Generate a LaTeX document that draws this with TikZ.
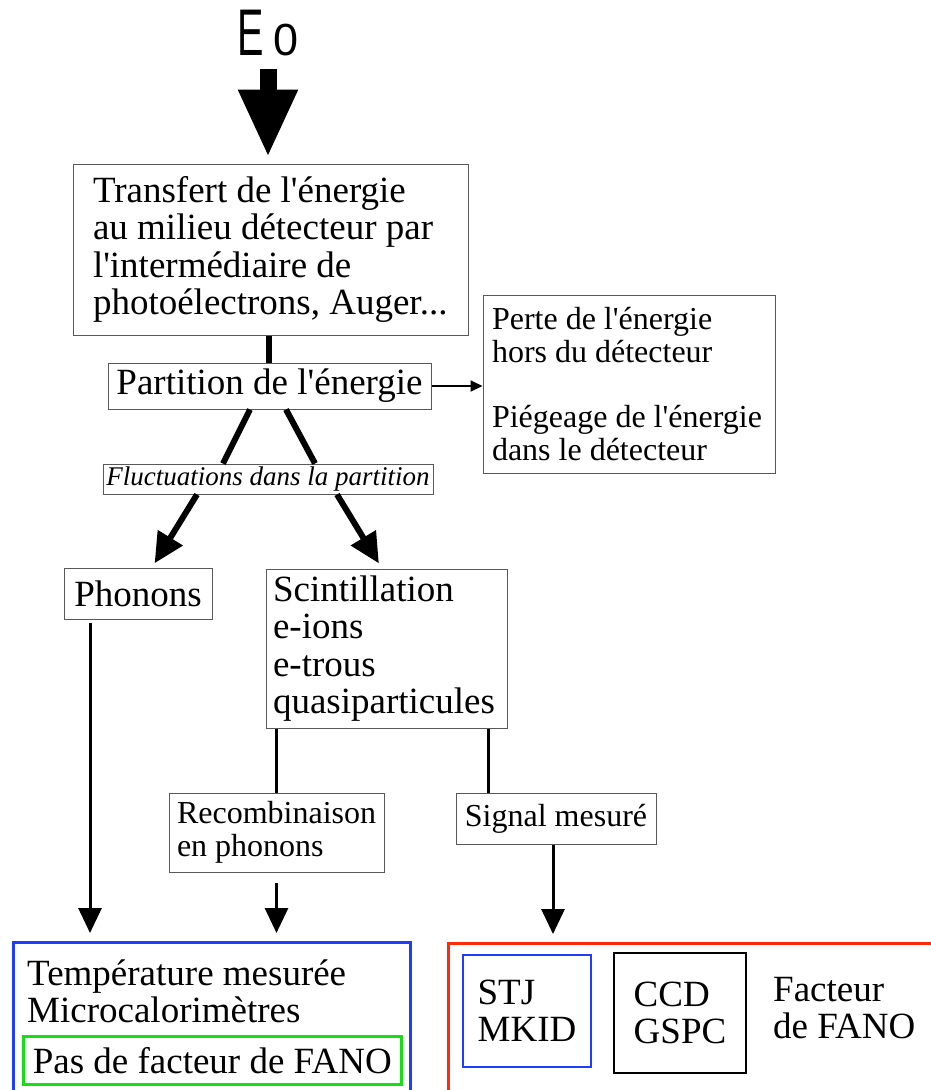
\documentclass[tikz,border=0pt]{standalone}
\usepackage{fontspec}
\setmainfont{Liberation Serif}[Ligatures=TeXOff]
\setsansfont{Liberation Sans}
\usepackage{tikz}
\usetikzlibrary{arrows.meta, calc}
\definecolor{fanoBlue}{HTML}{1F3DFF}
\definecolor{fanoRed}{HTML}{FF2A0A}
\definecolor{fanoGreen}{HTML}{14E014}

\begin{document}
\begin{tikzpicture}[x=1pt, y=-1pt,
        box/.style={draw=black!65, line width=1pt, inner sep=0pt, align=flush left,
                    font=\fontsize{37}{37.5}\selectfont},
        sbox/.style={box, font=\fontsize{32}{33}\selectfont},
        frame/.style={line width=2.5pt, inner sep=0pt, anchor=north west},
        txt/.style={inner sep=0pt, align=flush left, font=\fontsize{37}{37}\selectfont},
        link/.style={line width=6pt},
        vlink/.style={line width=3pt},
        arr/.style={line width=6pt, -{Triangle[length=30pt, width=28pt]}},
        varr/.style={line width=3pt, -{Triangle[length=25pt, width=23pt]}},
        sarr/.style={line width=2pt, -{Triangle[length=12pt, width=11pt]}}]
        \clip (0,0) rectangle (931,1090);
        \node[inner sep=0pt, anchor=base] (e0) at (268,55)
              {\sffamily\scalebox{0.6}[1]{\fontsize{66}{66}\selectfont E}\hspace{9pt}\fontsize{45}{45}\selectfont 0};
        \node[box, minimum width=395pt, minimum height=171pt, text width=355pt] (transfert) at (270.5,249.5)
              {Transfert de l'énergie\\au milieu détecteur par\\l'intermédiaire de\\photoélectrons, Auger...};
        \node[box, minimum width=323pt, minimum height=46pt, align=center] (part) at (269.5,386) {Partition de l'énergie};
        \node[sbox, minimum width=292pt, minimum height=178pt, text width=274pt] (perte) at (629,384)
              {Perte de l'énergie\\hors du détecteur\\[32pt]Piégeage de l'énergie\\dans le détecteur};
        \node[box, minimum width=330pt, minimum height=30pt, align=center,
              font=\fontsize{27}{27}\selectfont\itshape] (fluc) at (268,479) {Fluctuations dans la partition};
        \node[box, minimum width=148pt, minimum height=51pt, align=center] (phon) at (138,593.5) {Phonons};
        \node[box, minimum width=241pt, minimum height=159pt, text width=227pt] (scint) at (386.5,648.5)
              {Scintillation\\e-ions\\e-trous\\quasiparticules};
        \node[sbox, minimum width=215pt, minimum height=79pt, text width=199pt] (recomb) at (276.5,832.5)
              {Recombinaison\\en phonons};
        \node[sbox, minimum width=200pt, minimum height=51pt, align=center] (signal) at (556,818.5) {Signal mesuré};
        % detecteurs
        \node[frame, draw=fanoBlue, minimum width=397pt, minimum height=170pt] (mesT) at (12,941) {};
        \node[txt, anchor=base west] (tempT) at (27,985) {Température mesurée};
        \node[txt, anchor=base west] (micro) at (27,1022) {Microcalorimètres};
        \node[frame, draw=fanoGreen, minimum width=378pt, minimum height=48pt, font=\fontsize{37}{37}\selectfont]
              (nofano) at (22,1035) {Pas de facteur de FANO};
        \node[frame, draw=fanoRed, minimum width=500pt, minimum height=170pt] (mesS) at (447,942) {};
        \node[txt, draw=fanoBlue, line width=2pt, minimum width=128pt, minimum height=112pt] (stj) at (527,1011)
              {STJ\\MKID};
        \node[txt, draw=black, line width=2pt, minimum width=132pt, minimum height=120pt] (ccd) at (680,1013)
              {CCD\\GSPC};
        \node[txt, anchor=north west] (fano) at (773,977.5) {Facteur\\de FANO};
        % liaisons
        \draw[line width=17pt, -{Triangle[length=68pt, width=55pt]}, shorten >=6pt]
              ([yshift=-13pt]e0.south) -- (e0.south |- transfert.north);
        \draw[link] ([xshift=-2pt]transfert.south) -- ([xshift=-1pt]part.north);
        \draw[sarr] (part.east) -- (perte.west |- part.east);
        \draw[link] ([xshift=-19.5pt]part.south) -- ([xshift=-45pt]fluc.north);
        \draw[link] ([xshift=16.5pt]part.south) -- ([xshift=47pt]fluc.north);
        \draw[arr, shorten >=5pt] ([xshift=-71pt]fluc.south) -- ([xshift=14pt]phon.north);
        \draw[arr, shorten >=6pt] ([xshift=69pt]fluc.south) -- ([xshift=-4.5pt]scint.north);
        \draw[varr, shorten >=8pt] ([xshift=-48pt, yshift=-3pt]phon.south) -- ([xshift=-48pt]phon.south |- mesT.north);
        \draw[vlink] (recomb.north |- scint.south) -- (recomb.north);
        \draw[vlink] ([xshift=-68pt]signal.north |- scint.south) -- ([xshift=-68pt]signal.north);
        \draw[varr, shorten >=8pt] ([yshift=-10pt]recomb.south) -- (recomb.south |- mesT.north);
        \draw[varr, shorten >=8pt] ([xshift=-3pt]signal.south) -- ([xshift=-3pt]signal.south |- mesS.north);
      \end{tikzpicture}
\end{document}
